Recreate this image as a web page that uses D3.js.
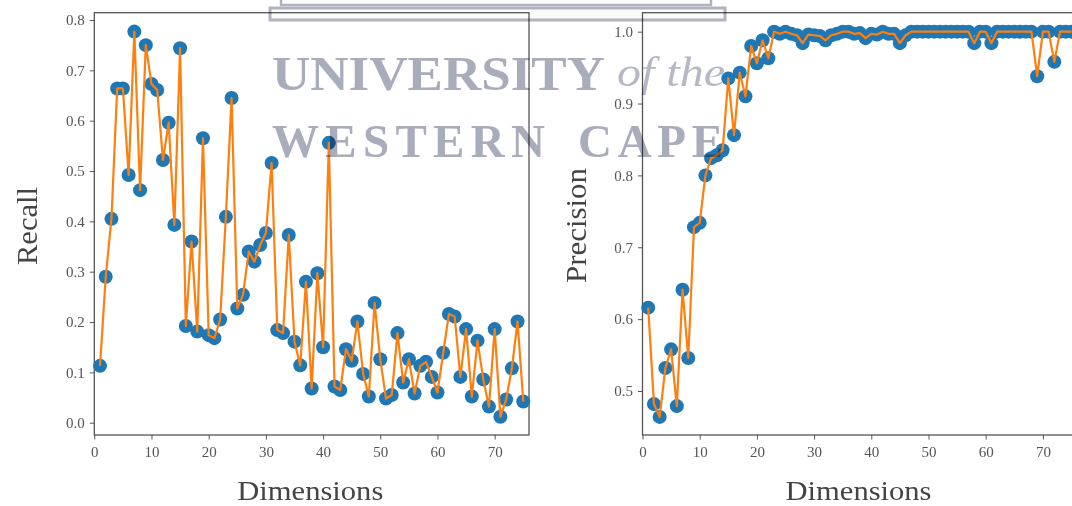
<!DOCTYPE html>
<html>
<head>
<meta charset="utf-8">
<script src="https://cdn.jsdelivr.net/npm/d3@7"></script>
<style>
  body { margin: 0; background: #fff; }
  svg { display: block; }
  .tick text { font-family: "Liberation Serif", "DejaVu Serif", serif; font-size: 15px; fill: #555; }
  .tick line { stroke: #555; stroke-width: 1; }
  .axis-title { font-family: "Liberation Serif", "DejaVu Serif", serif; fill: #444; }
</style>
</head>
<body>
<svg id="fig" width="1072" height="506"></svg>
<script>
// Number of retained dimensions (x axis of both panels)
const dimensions = [
  1, 2, 3, 4, 5, 6, 7, 8, 9, 10, 11, 12, 13, 14, 15, 16, 17, 18, 19, 20,
  21, 22, 23, 24, 25, 26, 27, 28, 29, 30, 31, 32, 33, 34, 35, 36, 37, 38, 39, 40,
  41, 42, 43, 44, 45, 46, 47, 48, 49, 50, 51, 52, 53, 54, 55, 56, 57, 58, 59, 60,
  61, 62, 63, 64, 65, 66, 67, 68, 69, 70, 71, 72, 73, 74, 75
];

// Recall for each number of dimensions
const recall = [
  0.113, 0.290, 0.405, 0.664, 0.664, 0.492, 0.777, 0.462, 0.750, 0.673,
  0.661, 0.522, 0.596, 0.393, 0.744, 0.192, 0.360, 0.181, 0.565, 0.174,
  0.168, 0.205, 0.409, 0.645, 0.227, 0.254, 0.340, 0.320, 0.353, 0.377,
  0.516, 0.184, 0.178, 0.373, 0.161, 0.114, 0.280, 0.068, 0.297, 0.150,
  0.556, 0.072, 0.065, 0.146, 0.123, 0.201, 0.097, 0.052, 0.238, 0.126,
  0.048, 0.055, 0.178, 0.080, 0.126, 0.058, 0.113, 0.121, 0.091, 0.060,
  0.139, 0.216, 0.211, 0.091, 0.186, 0.052, 0.163, 0.086, 0.032, 0.186,
  0.012, 0.046, 0.108, 0.201, 0.042
];

// Precision for each number of dimensions
const precision = [
  0.616, 0.482, 0.464, 0.532, 0.558, 0.479, 0.641, 0.546, 0.728, 0.734,
  0.800, 0.824, 0.828, 0.835, 0.935, 0.856, 0.943, 0.910, 0.980, 0.956,
  0.988, 0.963, 1.000, 0.997, 1.000, 0.997, 0.995, 0.984, 0.996, 0.995,
  0.994, 0.988, 0.995, 0.997, 1.000, 1.000, 0.997, 0.998, 0.991, 0.997,
  0.996, 1.000, 0.997, 0.997, 0.984, 0.995, 1.000, 1.000, 1.000, 1.000,
  1.000, 1.000, 1.000, 1.000, 1.000, 1.000, 1.000, 0.984, 1.000, 1.000,
  0.984, 1.000, 1.000, 1.000, 1.000, 1.000, 1.000, 1.000, 0.938, 1.000,
  1.000, 0.958, 1.000, 1.000, 1.000
];

const xTicks = [0, 10, 20, 30, 40, 50, 60, 70];
const recallTicks = [0.0, 0.1, 0.2, 0.3, 0.4, 0.5, 0.6, 0.7, 0.8];
const precisionTicks = [0.5, 0.6, 0.7, 0.8, 0.9, 1.0];

const svg = d3.select("#fig");
svg.append("rect").attr("width", 1072).attr("height", 506).attr("fill", "#fff");

const TOP = 12.7, BOTTOM = 435, WIDTH = 434.7;

function panel(opts) {
  const g = svg.append("g");
  const x = d3.scaleLinear().domain([0, 76]).range([opts.left, opts.left + WIDTH]);
  const y = d3.scaleLinear().domain(opts.yDomain).range([BOTTOM, TOP]);

  // frame
  g.append("rect")
    .attr("x", opts.left).attr("y", TOP)
    .attr("width", WIDTH).attr("height", BOTTOM - TOP)
    .attr("fill", "none").attr("stroke", "#555").attr("stroke-width", 1.3);

  // axes
  const xa = g.append("g").attr("transform", `translate(0,${BOTTOM})`)
    .call(d3.axisBottom(x).tickValues(xTicks).tickFormat(d3.format("d"))
      .tickSize(4.5).tickPadding(6.5));
  xa.select(".domain").remove();

  const ya = g.append("g").attr("transform", `translate(${opts.left},0)`)
    .call(d3.axisLeft(y).tickValues(opts.ticks).tickFormat(d3.format(".1f"))
      .tickSize(4.5).tickPadding(5));
  ya.select(".domain").remove();

  // markers
  const pts = dimensions.map((d, i) => [d, opts.values[i]]);
  g.append("g").selectAll("circle").data(pts).join("circle")
    .attr("cx", d => x(d[0])).attr("cy", d => y(d[1]))
    .attr("r", 7).attr("fill", "#1f77b4");

  // connecting line
  g.append("path").datum(pts)
    .attr("d", d3.line().x(d => x(d[0])).y(d => y(d[1])))
    .attr("fill", "none").attr("stroke", "#ff7f0e")
    .attr("stroke-width", 2.2).attr("stroke-linejoin", "round");

  // axis titles
  g.append("text").attr("class", "axis-title")
    .attr("x", opts.left + 216).attr("y", 500)
    .attr("text-anchor", "middle").attr("font-size", 28)
    .attr("textLength", 146).attr("lengthAdjust", "spacingAndGlyphs")
    .text("Dimensions");

  g.append("text").attr("class", "axis-title")
    .attr("transform", `translate(${opts.titleX},${opts.titleY}) rotate(-90)`)
    .attr("text-anchor", "middle").attr("font-size", 29)
    .attr("textLength", opts.titleLen).attr("lengthAdjust", "spacingAndGlyphs")
    .text(opts.title);
}

panel({ left: 94.3, values: recall, yDomain: [-0.0244, 0.8145], ticks: recallTicks,
        title: "Recall", titleX: 37, titleY: 226, titleLen: 78 });
panel({ left: 642.5, values: precision, yDomain: [0.4388, 1.0264], ticks: precisionTicks,
        title: "Precision", titleX: 586, titleY: 225.5, titleLen: 115 });

// university watermark printed over the figure
const wm = svg.append("g").style("mix-blend-mode", "multiply");
wm.append("rect").attr("x", 281).attr("y", -6).attr("width", 430).attr("height", 11)
  .attr("fill", "#fbfbfc").attr("stroke", "#b0b2c0").attr("stroke-width", 2.5);
wm.append("rect").attr("x", 270).attr("y", 8).attr("width", 455).attr("height", 12)
  .attr("fill", "#fbfbfc").attr("stroke", "#b0b2c0").attr("stroke-width", 3);

const wmFill = "#a9acba";
wm.append("text").attr("x", 272).attr("y", 90)
  .attr("font-family", "Liberation Serif, serif").attr("font-weight", "bold")
  .attr("font-size", 48).attr("fill", wmFill)
  .attr("textLength", 333).attr("lengthAdjust", "spacingAndGlyphs")
  .text("UNIVERSITY");
wm.append("text").attr("x", 617).attr("y", 86)
  .attr("font-family", "Liberation Serif, serif").attr("font-style", "italic")
  .attr("font-size", 42).attr("fill", wmFill).attr("opacity", 0.85)
  .attr("textLength", 108).attr("lengthAdjust", "spacingAndGlyphs")
  .text("of the");
wm.append("text").attr("x", 272).attr("y", 157)
  .attr("font-family", "Liberation Serif, serif").attr("font-weight", "bold")
  .attr("font-size", 47).attr("fill", wmFill)
  .attr("textLength", 273).attr("lengthAdjust", "spacing")
  .text("WESTERN");
wm.append("text").attr("x", 578).attr("y", 157)
  .attr("font-family", "Liberation Serif, serif").attr("font-weight", "bold")
  .attr("font-size", 47).attr("fill", wmFill)
  .attr("textLength", 145).attr("lengthAdjust", "spacing")
  .text("CAPE");
</script>
</body>
</html>
